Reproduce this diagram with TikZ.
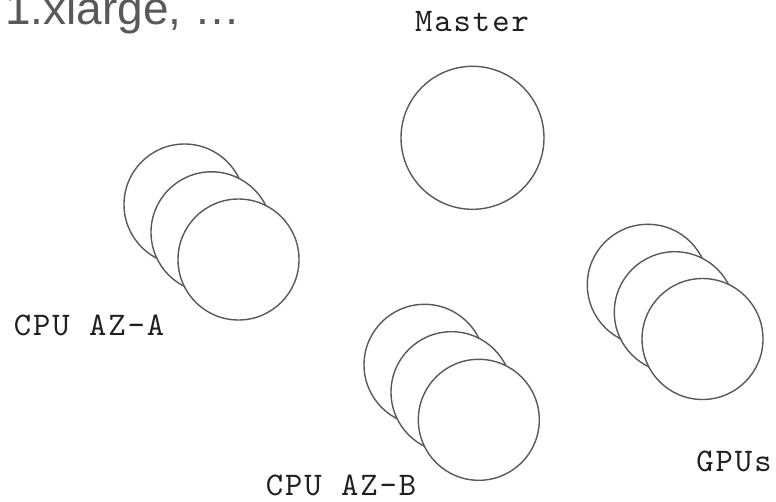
\documentclass[tikz,border=0pt]{standalone}
\usepackage{fontspec}
\setmainfont{Liberation Sans}
\newfontfamily\monofont{lmmono10-regular.otf}[LetterSpace=6]
\definecolor{strokegray}{HTML}{595959}
\definecolor{textdark}{HTML}{1F1F1F}
\begin{document}
\begin{tikzpicture}[x=1pt,y=-1pt,
  vm/.style={circle,draw=strokegray,line width=1.4pt,fill=white,minimum size=121pt,inner sep=0pt},
  master/.style={circle,draw=strokegray,line width=1.4pt,fill=white,minimum size=143pt,inner sep=0pt},
  lbl/.style={font=\monofont\fontsize{33}{36}\selectfont,text=textdark,inner sep=0pt,anchor=base}]
\useasboundingbox (0,0) rectangle (776,501);
\begin{scope}
\clip (0,0) rectangle (776,501);
\node[anchor=base west,inner sep=0pt,text=strokegray,font=\fontsize{46}{50}\selectfont] (top) at (5,24) {1.xlarge, …};
\end{scope}
% Master
\node[lbl] (mlbl) at (472,31.5) {Master};
\node[master] (m) at (472.5,137.8) {};
% CPU AZ-A
\node[vm] (a1) at (184.5,204.5) {};
\node[vm] (a2) at (211.5,232.3) {};
\node[vm] (a3) at (238.5,259.5) {};
\node[lbl] (albl) at (89,335) {CPU AZ-A};
% CPU AZ-B
\node[vm] (b1) at (424.5,364.8) {};
\node[vm] (b2) at (451.5,392.2) {};
\node[vm] (b3) at (478.8,419.8) {};
\node[lbl] (blbl) at (341,495) {CPU AZ-B};
% GPUs
\node[vm] (g1) at (647.8,284.8) {};
\node[vm] (g2) at (674.8,312.2) {};
\node[vm] (g3) at (702.5,339) {};
\node[lbl] (glbl) at (734,471.5) {GPUs};
\end{tikzpicture}
\end{document}
